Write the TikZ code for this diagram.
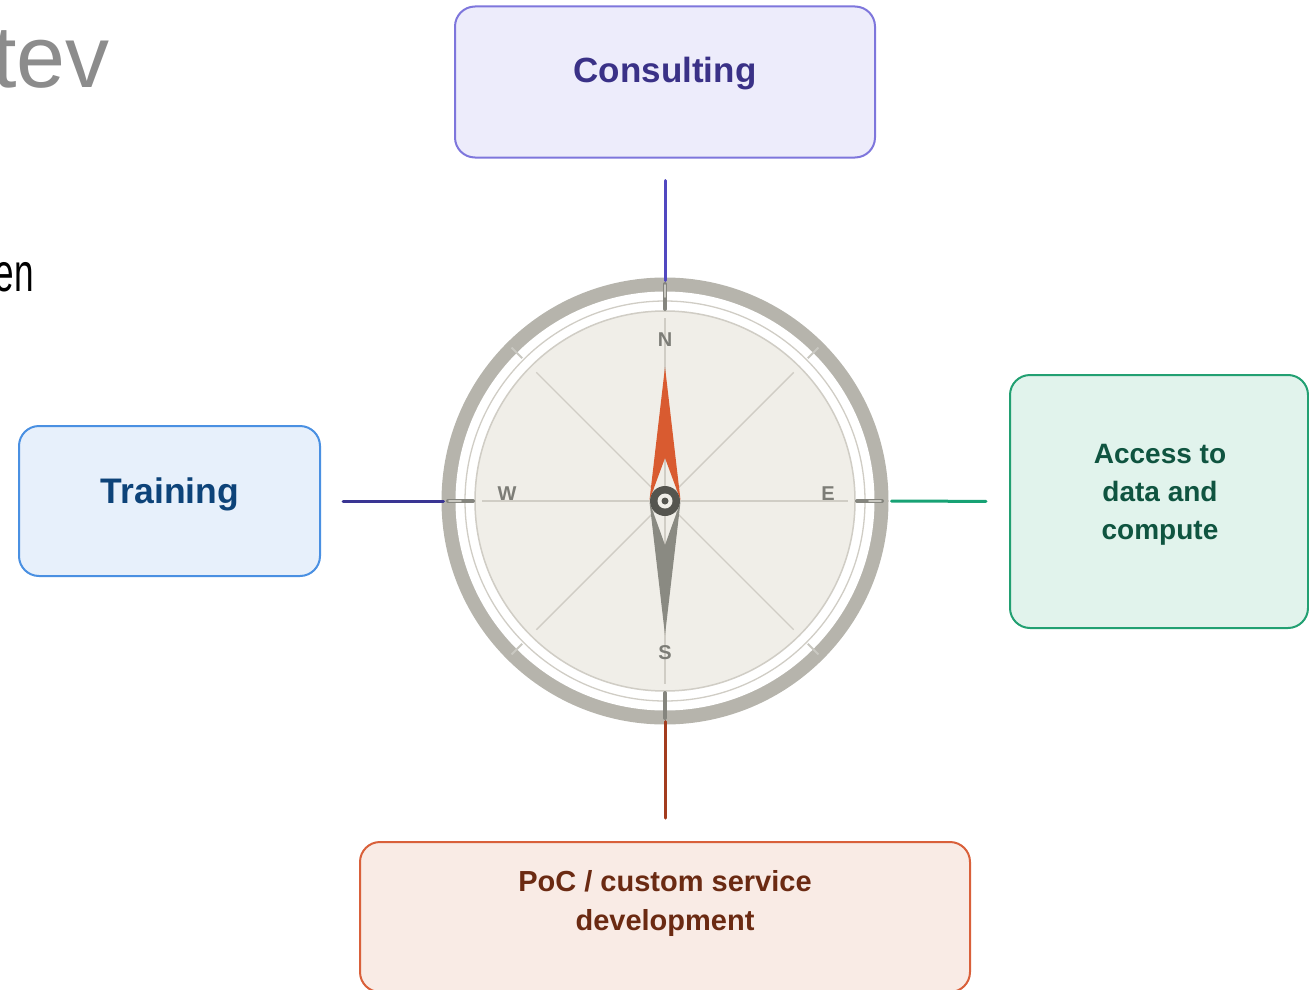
\documentclass[tikz,border=0pt]{standalone}
\usepackage{graphicx}
\usepackage{fontspec}
\setmainfont{Liberation Sans}
\definecolor{cBorder}{HTML}{7E76DC}
\definecolor{cFill}{HTML}{EDECFB}
\definecolor{cText}{HTML}{3A3187}
\definecolor{cLine}{HTML}{5148C0}
\definecolor{tBorder}{HTML}{4A90E2}
\definecolor{tFill}{HTML}{E7F0FB}
\definecolor{tText}{HTML}{0D4379}
\definecolor{tLine}{HTML}{3A3593}
\definecolor{aBorder}{HTML}{22A072}
\definecolor{aFill}{HTML}{E1F3EC}
\definecolor{aText}{HTML}{0F5440}
\definecolor{aLine}{HTML}{17A274}
\definecolor{pBorder}{HTML}{D9603A}
\definecolor{pFill}{HTML}{F9EBE5}
\definecolor{pText}{HTML}{6B2A12}
\definecolor{pLine}{HTML}{A33C1E}
\definecolor{ringGray}{HTML}{B6B4AC}
\definecolor{faceFill}{HTML}{F0EEE8}
\definecolor{faceLine}{HTML}{D0CDC5}
\definecolor{tickDark}{HTML}{85857E}
\definecolor{tickLight}{HTML}{C9C8C1}
\definecolor{lblGray}{HTML}{7D7D77}
\definecolor{needleRed}{HTML}{D95B30}
\definecolor{needleGray}{HTML}{8A8A82}
\definecolor{hubDark}{HTML}{55554F}
\definecolor{tevGray}{HTML}{8C8C8C}
\begin{document}
\begin{tikzpicture}[x=1pt,y=-1pt,
  boxshape/.style={draw, rounded corners=20pt, line width=2pt, inner sep=0pt, outer sep=0pt},
  conn/.style={line width=3pt, line cap=round},
  ttl/.style={font=\bfseries\fontsize{#1}{#1}\selectfont, inner sep=0pt, align=center},
  cardlbl/.style={font=\bfseries\fontsize{20}{20}\selectfont, text=lblGray, inner sep=0pt},
  faceline/.style={draw=faceLine, line width=1.4pt}
]
\useasboundingbox (0,0) rectangle (1309,990);
\clip (0,0) rectangle (1309,990);

% cut-off background text
\node[anchor=base east, inner sep=0pt, text=tevGray, font=\fontsize{88}{88}\selectfont] (tev) at (110,88) {tev};
\node[anchor=base east, inner sep=0pt, text=black, font=\fontsize{54}{54}\selectfont] (en) at (34,291) {\scalebox{0.65}[1]{en}};

% boxes
\node[boxshape, draw=cBorder, fill=cFill, minimum width=420pt, minimum height=151pt] (consult) at (665,82) {};
\node[ttl=35, text=cText, anchor=base] (consultlbl) at (665,82) {Consulting};

\node[boxshape, draw=tBorder, fill=tFill, minimum width=301pt, minimum height=150pt] (training) at (169.5,501) {};
\node[ttl=35.5, text=tText, anchor=base] (traininglbl) at (170,503) {Training};

\node[boxshape, draw=aBorder, fill=aFill, minimum width=298pt, minimum height=253pt] (access) at (1159,501.5) {};
\node[font=\bfseries\fontsize{28}{38}\selectfont, text=aText, align=center, inner sep=0pt, anchor=base] (accesslbl) at (1160,539) {Access to\\data and\\compute};

\node[boxshape, draw=pBorder, fill=pFill, minimum width=610pt, minimum height=150pt] (poc) at (665,917) {};
\node[font=\bfseries\fontsize{29}{39}\selectfont, text=pText, align=center, inner sep=0pt, anchor=base] (poclbl) at (665,930) {PoC / custom service\\development};

% compass outline node
\node[circle, minimum size=447pt, inner sep=0pt, outer sep=0pt] (ring) at (665,501) {};

\begin{scope}[shift={(665,501)}]
  \fill[ringGray] (0,0) circle[radius=223.5pt];
  \fill[white] (0,0) circle[radius=209.5pt];
  \draw[faceLine, line width=1.3pt] (0,0) circle[radius=200pt];
  \draw[faceLine, fill=faceFill, line width=1.5pt] (0,0) circle[radius=190pt];
  % diagonal ring ticks
  \foreach \a in {45,135,225,315}
    \draw[tickLight, line width=2pt] (\a:202pt) -- (\a:217pt);
  % face lines
  \draw[faceline] (0,-183) -- (0,183);
  \draw[faceline] (-183,0) -- (183,0);
  \draw[faceline] (45:182pt) -- (225:182pt);
  \draw[faceline] (135:182pt) -- (315:182pt);
  % cardinal ticks
  \foreach \a in {0,90,180,270}
    \draw[tickDark, line width=4pt, line cap=round] (\a:192pt) -- (\a:217pt);
  \foreach \a in {0,180,90}
    \draw[tickLight, line width=1.6pt, line cap=round] (\a:204pt) -- (\a:216pt);
  % labels
  \node[cardlbl] (lblN) at (0,-161) {N};
  \node[cardlbl] (lblS) at (0,152) {S};
  \node[cardlbl] (lblW) at (-158,-7) {W};
  \node[cardlbl] (lblE) at (163,-7) {E};
  % needle
  \fill[needleRed] (0,-134) -- (15.5,-1) -- (0,-43) -- (-15.5,-1) -- cycle;
  \fill[needleGray] (0,134) -- (15.5,1) -- (0,44) -- (-15.5,1) -- cycle;
  % hub
  \fill[hubDark] (0,0) circle[radius=15pt];
  \fill[faceFill] (0,0) circle[radius=7.5pt];
  \fill[hubDark] (0,0) circle[radius=3.5pt];
\end{scope}

% connectors
\draw[conn, cLine, shorten <=23pt, shorten >=-3pt] (consult.south) -- (ring.north);
\draw[conn, tLine, shorten <=23pt, shorten >=-2pt] (training.east) -- (ring.west);
\draw[conn, aLine, shorten <=24pt, shorten >=3pt] (access.west) -- (ring.east);
\draw[conn, pLine, shorten <=24pt, shorten >=-3pt] (poc.north) -- (ring.south);
\end{tikzpicture}
\end{document}
